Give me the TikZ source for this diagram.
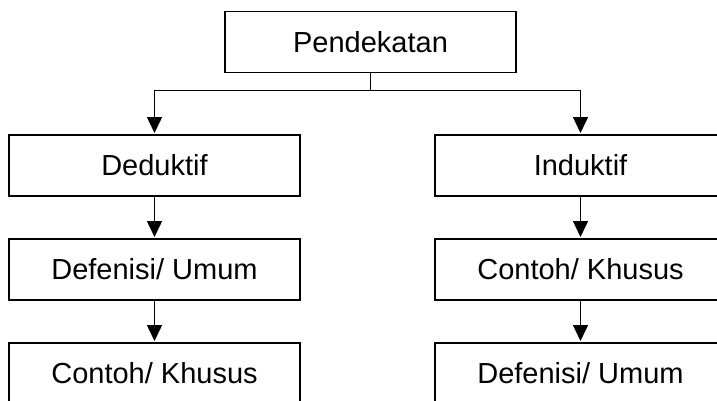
\documentclass[tikz,border=0pt]{standalone}
\usepackage{fontspec}
\setmainfont{Liberation Sans}
\usepackage{tikz}
\usetikzlibrary{positioning}
\usetikzlibrary{arrows.meta}

\begin{document}
\begin{tikzpicture}[x=1pt, y=1pt, node distance=43pt,
    box/.style={rectangle, draw=black, line width=1.8pt, fill=white,
      minimum width=291pt, minimum height=61pt, inner sep=0pt,
      outer sep=0pt, font=\fontsize{29}{34}\selectfont},
    link/.style={line width=1.5pt, shorten >=2pt,
      -{Triangle[length=16pt, width=15pt]}}, ]
    \useasboundingbox (0,0) rectangle (717,400);
    \clip (0,0) rectangle (717,400);
    % Nodes
    \node[box] (pendekatan) at (370.5,358) {Pendekatan};
    \node[box] (deduktif) at (154.5,234.5) {Deduktif}; \node[box]
    (induktif) at (580.5,234.5) {Induktif};
    \node[box] (umumA) [below=of deduktif] {Defenisi/ Umum};
    \node[box] (khususA) [below=of umumA] {Contoh/ Khusus};
    \node[box] (khususB) [below=of induktif] {Contoh/ Khusus};
    \node[box] (umumB) [below=of khususB] {Defenisi/ Umum};
    % Lines
    \draw[line width=1.5pt] (pendekatan.south) -- ++(0,-18)
    coordinate (split);
    \draw[link] (split) -| (deduktif.north); \draw[link] (split) -|
    (induktif.north);
    \draw[link] (deduktif.south) -- (umumA.north); \draw[link]
    (umumA.south) -- (khususA.north);
    \draw[link] (induktif.south) -- (khususB.north); \draw[link]
    (khususB.south) -- (umumB.north);
  \end{tikzpicture}
\end{document}
